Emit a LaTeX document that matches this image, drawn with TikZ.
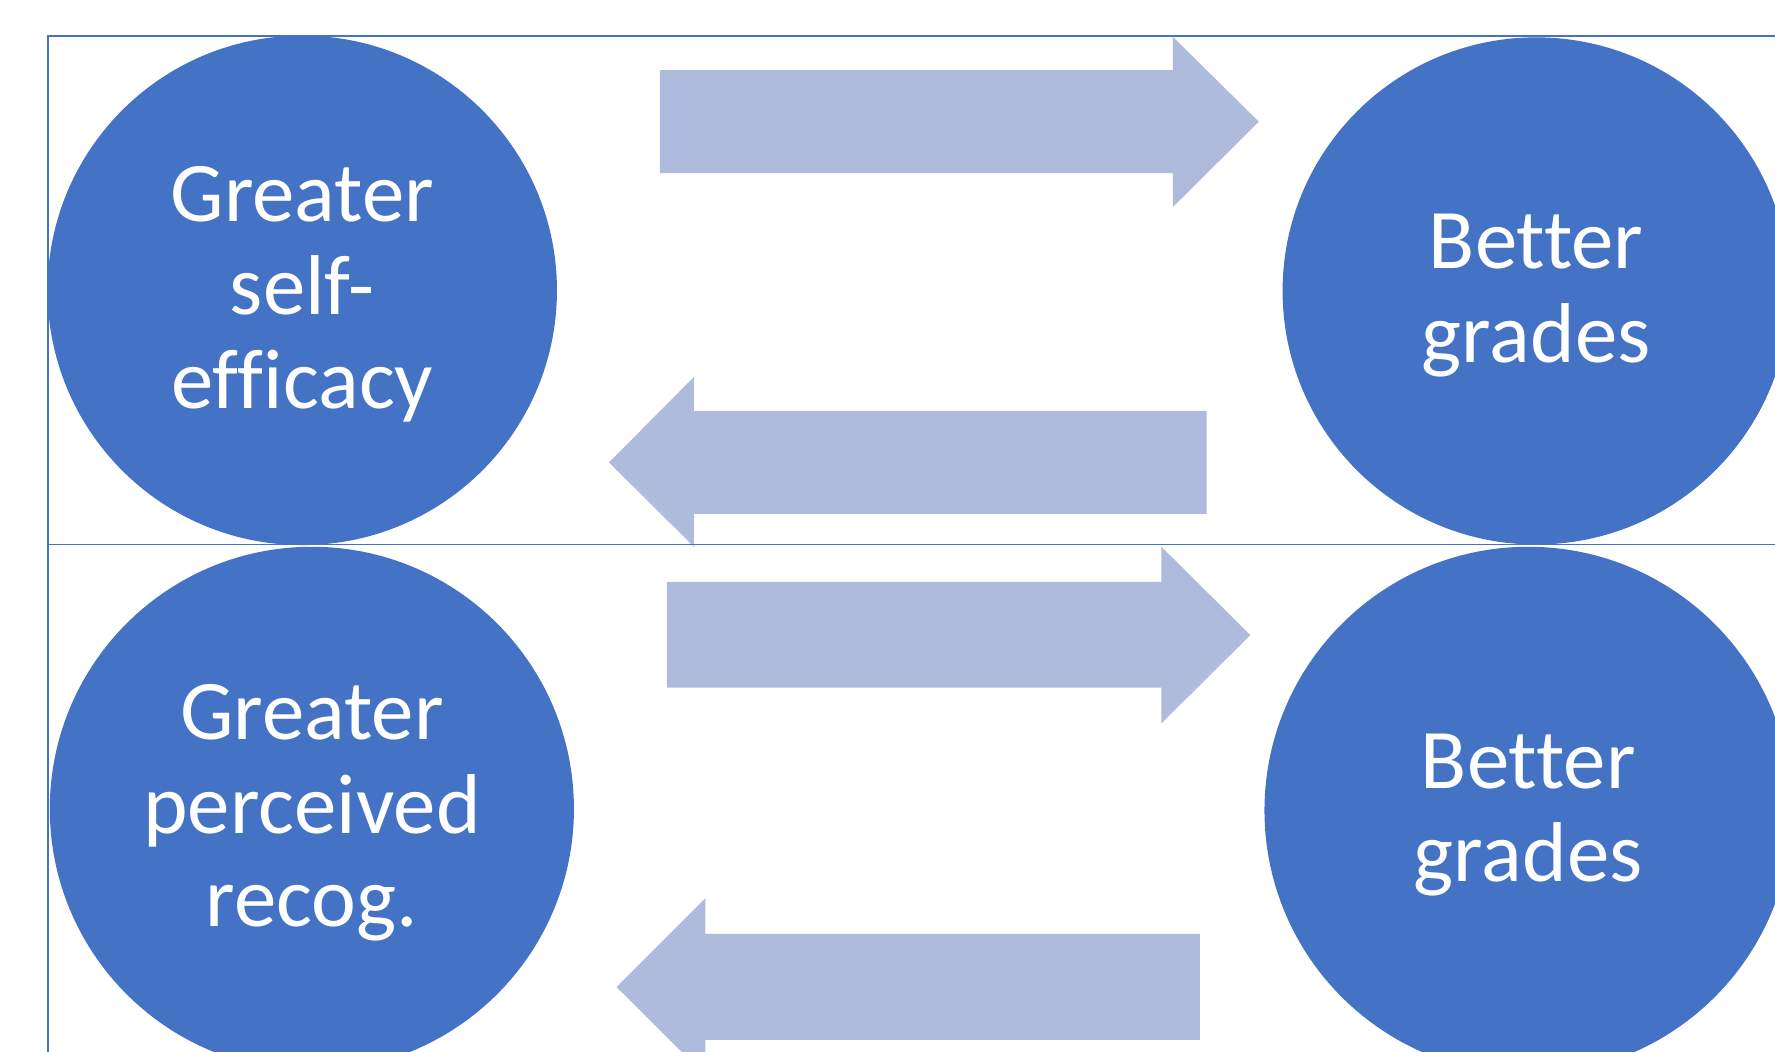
\documentclass[tikz,border=0pt]{standalone}
\usepackage{fontspec}
\setmainfont{Carlito}[Ligatures={NoCommon,NoRequired,NoContextual}]
\definecolor{circ}{HTML}{4472C4}
\definecolor{arr}{HTML}{AFBBDD}
\newcommand\topstrut{\rule{0pt}{60pt}}
\newcommand\botstrut{\rule[-17pt]{0pt}{17pt}}
\begin{document}
\begin{tikzpicture}[x=1pt,y=-1pt,
  bubble/.style={circle, fill=circ, text=white, inner sep=0pt, minimum size=#1,
    align=center, font=\fontsize{75pt}{82.7pt}\selectfont},
  frameline/.style={draw=circ, line width=1.7pt},
  blockarrow/.style={fill=arr}]
\useasboundingbox (0,0) rectangle (1568,929);
\clip (0,0) rectangle (1568,929);
% circles
\node[bubble=450pt] (se) at (267,256.5) {\topstrut Greater\\self-\\efficacy\botstrut};
\node[bubble=448pt] (bg1) at (1357,257) {\topstrut Better\\grades\botstrut};
\node[bubble=463pt] (pr) at (275.5,714.5) {\topstrut Greater\\perceived\\recog.\botstrut};
\node[bubble=466pt] (bg2) at (1350,716) {\topstrut Better\\grades\botstrut};
% block arrows
\fill[blockarrow] (583,62) -- (1036,62) -- (1036,32.5) -- (1112,107.5) -- (1036,183) -- (1036,153) -- (583,153) -- cycle;
\fill[blockarrow] (1066,363) -- (613,363) -- (613,333) -- (538,408.5) -- (613,483) -- (613,454) -- (1066,454) -- cycle;
\fill[blockarrow] (589,514) -- (1026,514) -- (1026,483) -- (1104.5,561) -- (1026,639) -- (1026,607.5) -- (589,607.5) -- cycle;
\fill[blockarrow] (1060,825) -- (623,825) -- (623,793.6) -- (544.7,872) -- (623,950) -- (623,918.5) -- (1060,918.5) -- cycle;
% frame lines
\draw[frameline] (42,1000) -- (42,32) -- (1600,32);
\draw[frameline] (42,481) -- (1600,481);
\end{tikzpicture}
\end{document}
